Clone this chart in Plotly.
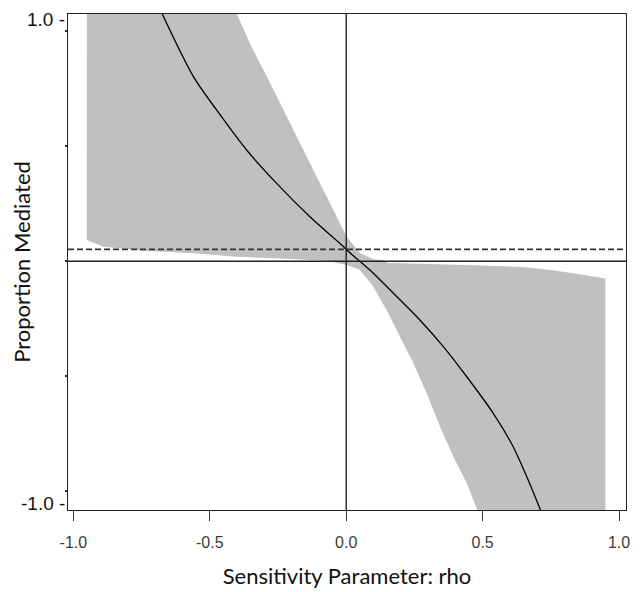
import plotly.graph_objects as go

# Point estimate of the proportion mediated across the sensitivity parameter rho
rho_est = [-0.68, -0.560, -0.475, -0.365, -0.255, -0.133, -0.004, 0.002, 0.087,
           0.173, 0.270, 0.356, 0.442, 0.539, 0.612, 0.662, 0.715]
prop_est = [1.09, 0.803, 0.658, 0.484, 0.339, 0.194, 0.057, 0.049, -0.038,
            -0.139, -0.255, -0.371, -0.502, -0.661, -0.806, -0.937, -1.09]

# Upper confidence bound
rho_upper = [-0.95, -0.45, -0.401, -0.353, -0.291, -0.231, -0.169, -0.108, -0.047,
             0.002, 0.051, 0.10, 0.135, 0.15, 0.20, 0.35, 0.50, 0.65, 0.75, 0.85, 0.95]
ci_upper = [1.6, 1.20, 1.075, 0.948, 0.803, 0.658, 0.513, 0.368, 0.223,
            0.107, 0.035, 0.009, 0.006, -0.007, -0.008, -0.012, -0.018, -0.025,
            -0.038, -0.055, -0.075]

# Lower confidence bound
rho_lower = [-0.951, -0.89, -0.744, -0.560, -0.401, -0.255, -0.071, 0.002, 0.051,
             0.099, 0.148, 0.197, 0.246, 0.295, 0.344, 0.393, 0.442, 0.478, 0.50, 0.95]
ci_lower = [0.093, 0.063, 0.046, 0.035, 0.020, 0.013, 0.002, -0.016, -0.038,
            -0.110, -0.212, -0.328, -0.443, -0.574, -0.719, -0.850, -0.965, -1.074,
            -1.15, -2.0]

# Proportion mediated at rho = 0
prop_at_rho0 = 0.052

x_ticks = [-1.0, -0.5, 0.0, 0.5, 1.0]
x_tick_text = ["-1.0", "-0.5", "0.0", "0.5", "1.0"]
y_ticks = [-1.0, -0.5, 0.0, 0.5, 1.0]

band_x = rho_upper + rho_lower[::-1]
band_y = ci_upper + ci_lower[::-1]

fig = go.Figure()
fig.add_trace(go.Scatter(
    x=band_x, y=band_y, mode="lines", fill="toself",
    fillcolor="#c0c0c0", line=dict(width=0, color="#c0c0c0"),
    hoverinfo="skip", showlegend=False,
))
fig.add_trace(go.Scatter(
    x=rho_est, y=prop_est, mode="lines",
    line=dict(color="black", width=1.3, shape="spline", smoothing=0.8),
    showlegend=False,
))

# reference lines
fig.add_shape(type="line", xref="paper", x0=0, x1=1, yref="y", y0=0, y1=0,
              line=dict(color="#222222", width=1.4))
fig.add_shape(type="line", xref="x", x0=0, x1=0, yref="paper", y0=0, y1=1,
              line=dict(color="#222222", width=1.4))
fig.add_shape(type="line", xref="paper", x0=0, x1=1, yref="y",
              y0=prop_at_rho0, y1=prop_at_rho0,
              line=dict(color="#333333", width=1.6, dash="6px,3px"))

# end labels of the vertical axis
fig.add_annotation(text="1.0 -", xref="paper", x=0, xanchor="right", xshift=-1,
                   yref="paper", y=(510 - 19) / 496, yanchor="middle",
                   showarrow=False,
                   font=dict(family="Liberation Sans, Arial", size=19, color="#111111"))
fig.add_annotation(text="-1.0 -", xref="paper", x=0, xanchor="right", xshift=-1,
                   yref="paper", y=(510 - 503) / 496, yanchor="middle",
                   showarrow=False,
                   font=dict(family="Liberation Sans, Arial", size=19, color="#111111"))

fig.update_layout(
    width=642, height=592,
    margin=dict(l=68, r=16, t=14, b=82, autoexpand=False),
    paper_bgcolor="white", plot_bgcolor="white",
    xaxis=dict(
        range=[-1.0196, 1.0255], tickvals=x_ticks, ticktext=x_tick_text,
        ticks="outside", ticklen=10, tickwidth=1.4, tickcolor="#333333",
        ticklabelstandoff=8, automargin=False,
        showline=True, linecolor="#222222", linewidth=1.4, mirror=True,
        showgrid=False, zeroline=False,
        tickfont=dict(family="Liberation Sans, Arial", size=16, color="#3c3c3c"),
        title=dict(text="Sensitivity Parameter: rho", standoff=18,
                   font=dict(family="Lato, Open Sans", size=22, color="#111111")),
    ),
    yaxis=dict(
        range=[-1.0813, 1.0752], tickvals=y_ticks, showticklabels=False,
        ticks="outside", ticklen=2, tickwidth=1.5, tickcolor="#333333",
        automargin=False,
        showline=True, linecolor="#222222", linewidth=1.4, mirror=True,
        showgrid=False, zeroline=False,
        title=dict(text="Proportion Mediated", standoff=28,
                   font=dict(family="Lato, Open Sans", size=22, color="#111111")),
    ),
)

fig.write_html("out.html")
